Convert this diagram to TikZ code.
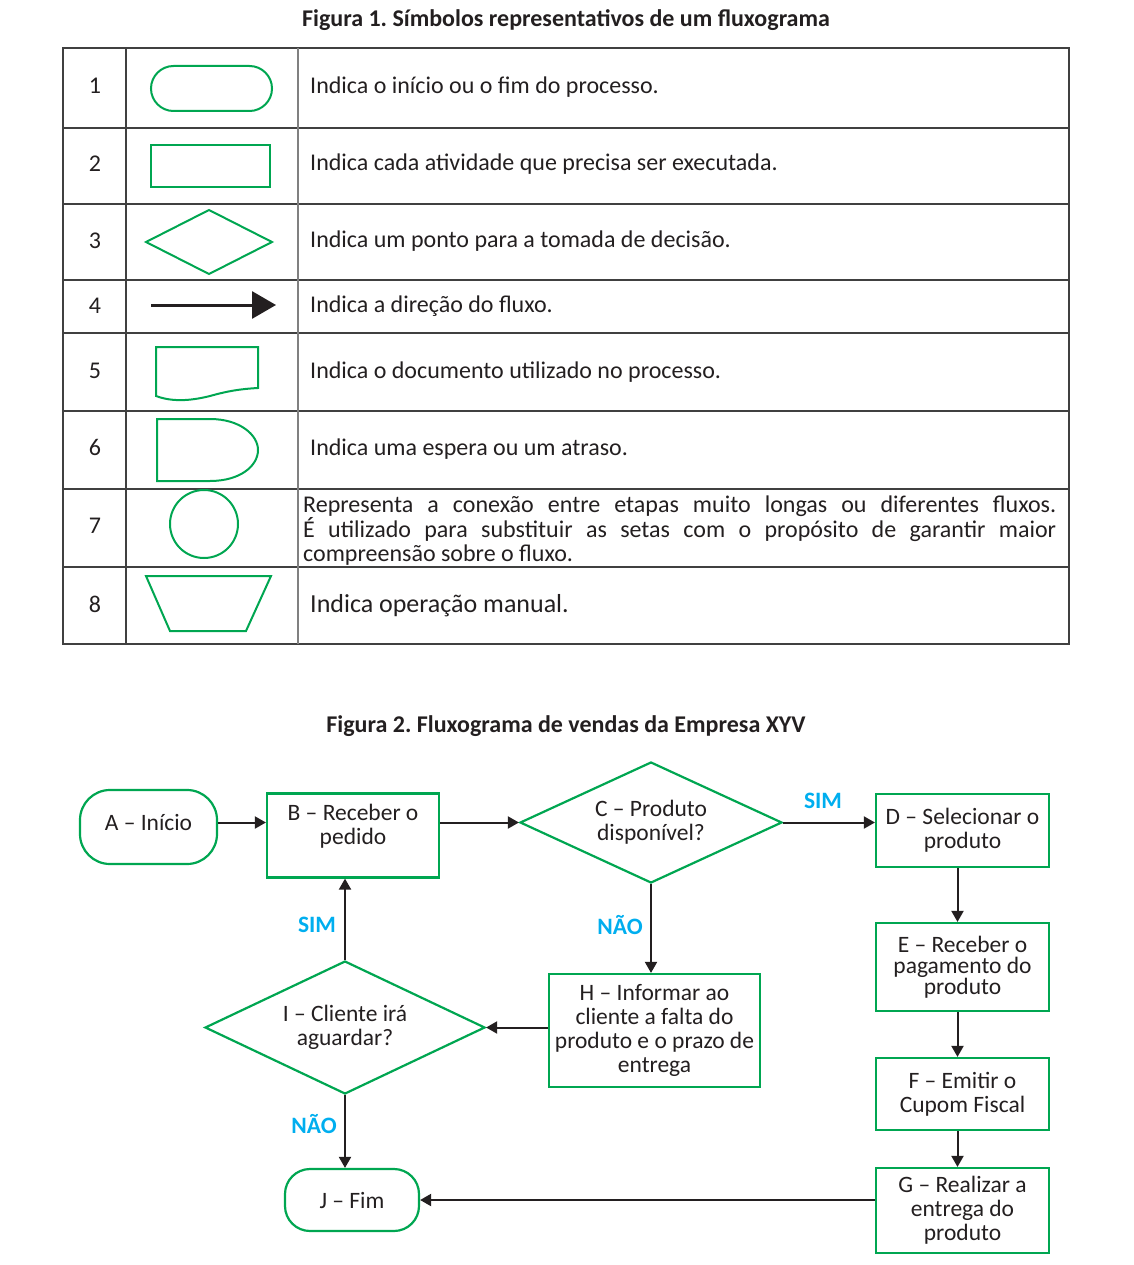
\documentclass[tikz,border=0pt]{standalone}
\usepackage{fontspec}
\setmainfont{Carlito}
\usetikzlibrary{shapes.geometric,arrows.meta}
\definecolor{fluxgreen}{RGB}{0,166,81}
\definecolor{simblue}{RGB}{0,174,239}
\definecolor{txtgray}{RGB}{35,31,32}
\definecolor{gridgray}{RGB}{64,64,64}
\definecolor{midgray}{RGB}{128,128,128}
\frenchspacing

\begin{document}
\begin{tikzpicture}[x=1pt,y=-1pt,
        txt/.style={font=\fontsize{24}{24}\selectfont, text=txtgray, inner sep=0pt},
        ttl/.style={font=\bfseries\fontsize{24}{24}\selectfont, text=txtgray, inner sep=0pt},
        ans/.style={font=\bfseries\fontsize{23.5}{24}\selectfont, text=simblue, inner sep=0pt},
        sym/.style={draw=fluxgreen, line width=2pt},
        grid/.style={draw=gridgray, line width=1.5pt},
        procbox/.style={draw=fluxgreen, line width=2.2pt, rectangle, align=center, inner sep=0pt,
            font=\fontsize{23.5}{24}\selectfont, text=txtgray},
        termbox/.style={procbox, rounded corners=28pt},
        decbox/.style={procbox, diamond, aspect=2},
        flow/.style={draw=txtgray, line width=2pt, -{Triangle[length=11pt,width=12pt]}}
    ]
        \useasboundingbox (0,0) rectangle (1133,1265);

        % Figura 1
        \node[ttl] (fig1) at (566,20) {Figura 1. Símbolos representativos de um fluxograma};
        \draw[grid] (63,48) rectangle (1069,644);
        \foreach \y in {128,204,280,333,411,489,567} {
                \draw[grid] (63,\y) -- (1069,\y);
            }
        \draw[grid] (126,48) -- (126,644);
        \draw[grid, draw=midgray] (298,48) -- (298,644);
        \foreach \n/\y in {1/86, 2/164, 3/241, 4/306, 5/371, 6/448, 7/526, 8/605} {
                \node[txt, anchor=base] (num\n) at (95,\y+7.5) {\n};
            }
        \draw[sym, rounded corners=22.5pt] (151,66) rectangle (272,111);
        \draw[sym] (151,145) rectangle (270,187);
        \draw[sym] (146,242) -- (209,210) -- (272,242) -- (209,274) -- cycle;
        \draw[txtgray, line width=3pt, -{Triangle[length=24pt,width=27pt]}] (151,305) -- (276,305);
        \draw[sym] (258,388) -- (258,347) -- (156,347) -- (156,396)
            .. controls (172,402) and (190,401) .. (210,396)
            .. controls (228,391) and (240,389) .. cycle;
        \draw[sym] (157,419) -- (210,419) .. controls (240,419) and (258,435) .. (258,450)
            .. controls (258,466) and (240,481) .. (210,481) -- (157,481) -- cycle;
        \draw[sym] (204,524) circle (34);
        \draw[sym] (146,576) -- (271,576) -- (246,631) -- (170,631) -- cycle;
        \foreach \n/\y/\t in {1/86/{Indica o início ou o fim do processo.},
                2/163/{Indica cada atividade que precisa ser executada.},
                3/240/{Indica um ponto para a tomada de decisão.},
                4/305/{Indica a direção do fluxo.},
                5/371/{Indica o documento utilizado no processo.},
                6/448/{Indica uma espera ou um atraso.}} {
                \node[txt, anchor=base west] (desc\n) at (310,\y+7.5) {\t};
            }
        \node[txt, anchor=base west, text width=753pt, align=justify] (desc7) at (303,512.5)
            {Representa a conexão entre etapas muito longas ou diferentes fluxos.\linebreak
            É utilizado para substituir as setas com o propósito de garantir maior\linebreak
            compreensão sobre o fluxo.};
        \node[txt, font=\fontsize{26}{28}\selectfont, anchor=base west] (desc8) at (310,612.5) {Indica operação manual.};

        % Figura 2
        \node[ttl] (fig2) at (566,726) {Figura 2. Fluxograma de vendas da Empresa XYV};
        \node[termbox, rounded corners=30pt, minimum width=137pt, minimum height=74pt] (A) at (148.5,827) {A – Início\rule[-10pt]{0pt}{0pt}};
        \node[procbox, minimum width=172pt, minimum height=84pt] (B) at (353,835.5) {B – Receber o\\pedido\rule[-22pt]{0pt}{0pt}};
        \node[decbox, minimum width=262pt, minimum height=121pt] (C) at (651,822.5) {C – Produto\\disponível?};
        \node[procbox, minimum width=173pt, minimum height=73pt] (D) at (962.5,830.5) {D – Selecionar o\\produto};
        \node[procbox, font=\fontsize{23.5}{21}\selectfont, minimum width=173pt, minimum height=88pt] (E) at (962.5,967) {E – Receber o\\pagamento do\\produto};
        \node[procbox, minimum width=173pt, minimum height=72pt] (F) at (962.5,1094) {F – Emitir o\\Cupom Fiscal};
        \node[procbox, minimum width=173pt, minimum height=85pt] (G) at (962.5,1210.5) {G – Realizar a\\entrega do\\produto};
        \node[procbox, minimum width=211pt, minimum height=113pt] (H) at (654.5,1030.5) {H – Informar ao\\cliente a falta do\\produto e o prazo de\\entrega};
        \node[decbox, minimum width=280pt, minimum height=133pt] (I) at (345,1027.5) {I – Cliente irá\\aguardar?};
        \node[termbox, rounded corners=25pt, minimum width=134pt, minimum height=62pt] (J) at (352,1200) {J – Fim};

        \draw[flow] (A.east |- C.west) -- (B.west |- C.west);
        \draw[flow] (B.east |- C.west) -- (C.west);
        \draw[flow] (C.east) -- (D.west |- C.east);
        \draw[flow] ([xshift=-5pt]D.south) -- ([xshift=-5pt]E.north);
        \draw[flow] ([xshift=-5pt]E.south) -- ([xshift=-5pt]F.north);
        \draw[flow] ([xshift=-5pt]F.south) -- ([xshift=-5pt]G.north);
        \draw[flow] (C.south) -- (C.south |- H.north);
        \draw[flow] (H.west |- I.east) -- (I.east);
        \draw[flow] (I.north) -- (I.north |- B.south);
        \draw[flow] (I.south) -- (I.south |- J.north);
        \draw[flow] (G.west |- J.east) -- (J.east);

        \node[ans] (simD) at (823,801) {SIM};
        \node[ans] (naoH) at (620,925) {NÃO};
        \node[ans] (simB) at (317,925) {SIM};
        \node[ans] (naoJ) at (314,1124) {NÃO};
    \end{tikzpicture}
\end{document}
